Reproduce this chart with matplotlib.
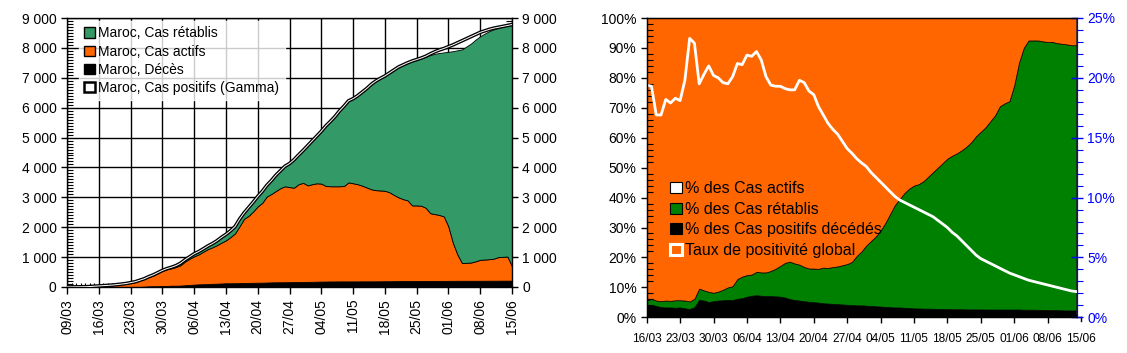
import numpy as np
import matplotlib.pyplot as plt
from matplotlib.patches import Patch
from matplotlib.ticker import MultipleLocator, FuncFormatter

plt.rcParams['font.family'] = ['Liberation Sans', 'DejaVu Sans']

# ---- Left chart: Maroc, daily 09/03 -> 15/06 ----
left_ticks = ['09/03', '16/03', '23/03', '30/03', '06/04', '13/04', '20/04', '27/04',
              '04/05', '11/05', '18/05', '25/05', '01/06', '08/06', '15/06']

deces = [0, 1, 1, 1, 1, 1, 2, 2, 2, 2, 2, 3, 4, 4, 4, 4, 5, 10, 23, 25, 26, 33, 36,
         44, 44, 48, 59, 70, 80, 90, 93, 97, 107, 111, 118, 126, 126, 127, 130, 135, 137, 141, 143,
         145, 149, 155, 158, 159, 161, 162, 165, 168, 170,
         171, 174, 179, 181, 183, 186, 186, 188, 188, 188, 188, 188, 190, 190, 190, 191, 192, 193,
         194, 196, 197, 198, 199, 199, 200, 202, 202, 203, 203, 204, 205,
         206, 206, 208, 208, 208, 208, 208, 208, 210, 210, 211, 211, 212, 212, 212]

actifs = [2, 1, 4, 5, 6, 15, 25, 34, 40, 50, 58, 73, 89, 107, 134, 160, 213, 258, 309, 363, 436, 506, 557,
          581, 626, 681, 794, 875, 947, 1001, 1085, 1168, 1219, 1288, 1366, 1434, 1545, 1668, 1904,
          2148, 2245, 2387, 2553, 2671, 2880, 2957, 3053, 3148, 3209, 3180, 3158, 3271, 3316,
          3229, 3266, 3291, 3279, 3197, 3184, 3184, 3182, 3192, 3312, 3282, 3252, 3200, 3140, 3080,
          3049, 3038, 3027, 2976, 2884, 2803, 2742, 2701, 2531, 2530, 2518, 2448, 2267, 2237, 2206, 2155,
          1814, 1264, 872, 592, 602, 612, 652, 702, 710, 720, 739, 789, 798, 808, 478]

retablis = [0, 0, 0, 0, 0, 1, 1, 1, 2, 2, 3, 3, 3, 4, 5, 6, 7, 7, 13, 14, 17, 17, 24,
            29, 38, 62, 66, 76, 93, 93, 97, 109, 122, 146, 177, 203, 217, 229, 249, 281, 303, 327, 350,
            393, 417, 456, 547, 590, 695, 778, 929, 984, 1083,
            1329, 1463, 1583, 1759, 2028, 2178, 2341, 2540, 2683, 2781, 2860, 2980, 3170, 3370, 3580,
            3690, 3760, 3830, 4010, 4210, 4390, 4500, 4620, 4850, 4880, 4930, 5050, 5290, 5360, 5420, 5490,
            5850, 6420, 6840, 7150, 7240, 7330, 7420, 7480, 7560, 7630, 7670, 7670, 7710, 7740, 8110]

positifs_gamma = [2, 3, 5, 7, 9, 15, 26, 35, 45, 55, 65, 80, 97, 117, 145, 175, 225, 275, 345, 405, 480, 555, 615,
                  660, 715, 795, 910, 1010, 1110, 1185, 1275, 1370, 1450, 1545, 1660, 1760, 1880, 2020, 2270,
                  2480, 2660, 2840, 3030, 3200, 3400, 3560, 3740, 3890, 4040, 4130, 4260, 4420, 4570,
                  4730, 4890, 5050, 5210, 5390, 5540, 5700, 5890, 6050, 6230, 6300, 6400, 6520, 6640, 6780,
                  6890, 6980, 7060, 7160, 7260, 7360, 7430, 7500, 7560, 7610, 7660, 7720, 7800, 7870, 7930, 7980,
                  8040, 8100, 8170, 8240, 8310, 8380, 8450, 8520, 8570, 8620, 8660, 8690, 8720, 8750, 8780]

# ---- Right chart: shares, daily 16/03 -> 14/06 ----
right_ticks = ['16/03', '23/03', '30/03', '06/04', '13/04', '20/04', '27/04',
               '04/05', '11/05', '18/05', '25/05', '01/06', '08/06', '15/06']

pct_decedes = [3.6, 4.2, 3.8, 3.4, 3.3, 3.3, 3.2, 3.3, 3.0, 2.8, 3.4, 5.9, 5.6, 5.1, 5.4, 5.6,
               5.7, 5.8, 5.8, 6.2, 6.4, 6.9, 7.2, 7.4, 7.2, 7.1, 7.1, 7.0, 6.9, 6.6, 6.1, 5.8, 5.6, 5.4,
               5.2, 5.1, 4.9, 4.7, 4.6, 4.5, 4.4, 4.3, 4.2, 4.1, 4.0, 4.0,
               3.9, 3.8, 3.7, 3.6, 3.5, 3.4, 3.3, 3.3, 3.2, 3.1, 3.0, 2.95, 2.9, 2.9, 2.85, 2.8, 2.8,
               2.75, 2.7, 2.7, 2.7, 2.65, 2.65, 2.65, 2.65, 2.6, 2.6, 2.6, 2.6, 2.6, 2.6,
               2.6, 2.6, 2.55, 2.55, 2.55, 2.5, 2.5, 2.45, 2.4, 2.4, 2.35, 2.3, 2.3, 2.3]

pct_retablis = [2.0, 2.0, 1.8, 2.0, 2.3, 2.2, 2.5, 2.4, 2.6, 2.5, 2.8, 3.7, 3.4, 3.4, 2.8, 3.0,
                3.5, 4.2, 4.6, 6.6, 7.2, 7.2, 7.1, 7.8, 7.8, 7.9, 8.4, 9.2, 10.3, 11.6, 12.5, 12.2, 12.0, 11.4,
                11.1, 11.2, 11.3, 11.9, 11.9, 12.3, 12.6, 13.1, 13.6, 14.4, 16.5, 18.0,
                20.1, 21.7, 23.3, 25.4, 28.0, 31.1, 34.2, 36.2, 38.3, 39.9, 41.0, 41.55, 42.6, 44.1, 45.65,
                47.2, 48.7, 50.25, 51.3, 52.1, 53.1, 54.35, 55.85, 57.85, 59.35, 60.9, 62.9, 64.9, 67.9, 68.9, 69.6,
                74.9, 82.4, 87.45, 89.95, 89.95, 90.0, 89.7, 89.55, 89.6, 89.2, 89.05, 88.9, 88.6, 88.6]

pct_actifs = [94.4, 93.8, 94.4, 94.6, 94.4, 94.5, 94.3, 94.3, 94.4, 94.7, 93.8, 90.4, 91.0, 91.5, 91.8, 91.4,
              90.8, 90.0, 89.6, 87.2, 86.4, 85.9, 85.7, 84.8, 85.0, 85.0, 84.5, 83.8, 82.8, 81.8, 81.4, 82.0,
              82.4, 83.2, 83.7, 83.7, 83.8, 83.4, 83.5, 83.2, 83.0, 82.6, 82.2, 81.5, 79.5, 78.0,
              76.0, 74.5, 73.0, 71.0, 68.5, 65.5, 62.5, 60.5, 58.5, 57.0, 56.0, 55.5, 54.5, 53.0, 51.5,
              50.0, 48.5, 47.0, 46.0, 45.2, 44.2, 43.0, 41.5, 39.5, 38.0, 36.5, 34.5, 32.5, 29.5, 28.5, 27.8,
              22.5, 15.0, 10.0, 7.5, 7.5, 7.5, 7.8, 8.0, 8.0, 8.4, 8.6, 8.8, 9.1, 9.1]

taux_positivite = [19.4, 19.3, 16.9, 16.9, 18.2, 17.9, 18.3, 18.1, 19.8, 23.3, 22.9, 19.5, 20.3, 21.0, 20.2, 20.0,
                   19.6, 19.5, 20.1, 21.2, 21.1, 21.9, 21.8, 22.2, 21.5, 20.1, 19.4, 19.3, 19.3, 19.1, 19.0,
                   19.0, 19.8, 19.6, 18.9, 18.6, 17.6, 16.9, 16.2, 15.7, 15.3, 14.7, 14.1, 13.7, 13.25, 12.9,
                   12.6, 12.1, 11.7, 11.3, 10.9, 10.5, 10.1, 9.8, 9.6, 9.4, 9.2, 9.0, 8.8, 8.6, 8.4, 8.1, 7.8,
                   7.5, 7.1, 6.8, 6.4, 6.0, 5.6, 5.2, 4.9, 4.7, 4.5, 4.3, 4.1, 3.9, 3.7,
                   3.55, 3.4, 3.25, 3.1, 3.0, 2.9, 2.8, 2.7, 2.6, 2.5, 2.4, 2.3, 2.2, 2.15]

GREEN_L = '#339966'
ORANGE = '#FF6600'
GREEN_R = '#008000'
BLUE = '#0000FF'

fig = plt.figure(figsize=(11.27, 3.53), dpi=100)
W, H = 1127, 353

# ================= left chart =================
ax1 = fig.add_axes([67 / W, (H - 287) / H, (512 - 67) / W, (287 - 18) / H])
x1 = np.arange(len(deces))
ax1.stackplot(x1, deces, actifs, retablis, colors=['black', ORANGE, GREEN_L],
              edgecolor='black', linewidth=0.6, zorder=2)
ax1.plot(x1, positifs_gamma, color='black', lw=2.6, zorder=3)
ax1.plot(x1, positifs_gamma, color='white', lw=0.7, zorder=4)
ax1.set_xlim(0, len(deces) - 1)
ax1.set_ylim(0, 9000)
ax1.set_axisbelow(True)
ax1.grid(True, which='major', color='black', lw=1)
ax1.set_xticks(np.arange(0, len(deces), 7))
ax1.set_xticklabels(left_ticks, rotation=90, fontsize=10)
ax1.xaxis.set_minor_locator(MultipleLocator(1))
ax1.yaxis.set_major_locator(MultipleLocator(1000))
ax1.yaxis.set_minor_locator(MultipleLocator(100))
ax1.yaxis.set_major_formatter(FuncFormatter(lambda v, p: f'{v:,.0f}'.replace(',', ' ')))
ax1.tick_params(axis='y', which='major', direction='out', length=4, labelsize=10,
                right=True, labelright=True, width=1)
ax1.tick_params(axis='y', which='minor', direction='in', length=4, right=True, width=0.8)
ax1.tick_params(axis='x', which='major', direction='out', length=5, width=1)
ax1.tick_params(axis='x', which='minor', direction='in', length=3, width=0.8)
for s in ax1.spines.values():
    s.set_linewidth(1)

h1 = [Patch(facecolor=GREEN_L, edgecolor='black', lw=1),
      Patch(facecolor=ORANGE, edgecolor='black', lw=1),
      Patch(facecolor='black', edgecolor='black', lw=1),
      Patch(facecolor='white', edgecolor='black', lw=1.8)]
l1 = ['Maroc, Cas rétablis', 'Maroc, Cas actifs', 'Maroc, Décès', 'Maroc, Cas positifs (Gamma)']
leg1 = ax1.legend(h1, l1, loc='upper left', bbox_to_anchor=(0.02, 1.0), fontsize=10,
                  frameon=True, fancybox=False, handlelength=0.75, handleheight=0.75,
                  handletextpad=0.25, labelspacing=0.3, borderpad=0.4, borderaxespad=0.2)
leg1.get_frame().set_facecolor('white')
leg1.get_frame().set_edgecolor('white')
leg1.set_zorder(5)

# ================= right chart =================
ax2 = fig.add_axes([646.7 / W, (H - 317.3) / H, (1076.7 - 646.7) / W, (317.3 - 18) / H])
x2 = np.arange(len(pct_decedes))
ax2.stackplot(x2, pct_decedes, pct_retablis, pct_actifs, colors=['black', GREEN_R, ORANGE],
              edgecolor='black', linewidth=0.5)
ax2.set_xlim(0, 90.1)
ax2.set_ylim(0, 100)
ax2.set_xticks(np.arange(0, 85, 7))
ax2.set_xticklabels(right_ticks[:-1], fontsize=8.6)
ax2.xaxis.set_minor_locator(MultipleLocator(1))
ax2.yaxis.set_major_locator(MultipleLocator(10))
ax2.yaxis.set_minor_locator(MultipleLocator(2))
ax2.yaxis.set_major_formatter(FuncFormatter(lambda v, p: f'{v:.0f}%'))
ax2.tick_params(axis='y', which='major', direction='out', length=4, labelsize=10, width=1, right=True)
ax2.tick_params(axis='y', which='minor', direction='in', length=4, width=0.8, right=True)
ax2.tick_params(axis='x', which='major', direction='out', length=4, width=1, pad=7)
ax2.tick_params(axis='x', which='minor', direction='in', length=2, width=0.8, colors='black')
# last date label sits just past the plotting area
ax2.annotate(right_ticks[-1], xy=(91, 0), xycoords=('data', 'axes fraction'),
             xytext=(0, -11), textcoords='offset points', ha='center', va='top',
             fontsize=8.6, annotation_clip=False)
ax2.plot([91, 91], [0, -0.013], transform=ax2.get_xaxis_transform(), color='black', lw=1, clip_on=False)
ax2.plot([90.1, 91], [0, 0], transform=ax2.get_xaxis_transform(), color='black', lw=1, clip_on=False)

ax3 = ax2.twinx()
ax3.plot(x2, taux_positivite, color='white', lw=2)
ax3.set_ylim(0, 25)
ax3.yaxis.set_major_locator(MultipleLocator(5))
ax3.yaxis.set_minor_locator(MultipleLocator(1))
ax3.yaxis.set_major_formatter(FuncFormatter(lambda v, p: f'{v:.0f}%'))
ax3.tick_params(axis='y', which='major', direction='inout', length=8, colors=BLUE, labelsize=10, width=1)
ax3.tick_params(axis='y', which='minor', direction='out', length=4, colors=BLUE, width=0.8)
ax3.spines['right'].set_color(BLUE)
for s in ['top', 'left', 'bottom']:
    ax3.spines[s].set_linewidth(1)

h2 = [Patch(facecolor='white', edgecolor='black', lw=0.8),
      Patch(facecolor=GREEN_R, edgecolor='black', lw=0.8),
      Patch(facecolor='black', edgecolor='black', lw=0.8),
      Patch(facecolor='none', edgecolor='white', lw=2.2)]
l2 = ['% des Cas actifs', '% des Cas rétablis', '% des Cas positifs décédés', 'Taux de positivité global']
ax3.legend(h2, l2, loc='upper left', bbox_to_anchor=(0.055, 0.455), fontsize=11.5, frameon=False,
           handlelength=0.7, handleheight=0.7, handletextpad=0.2, labelspacing=0.35,
           borderpad=0.0, borderaxespad=0.0)

fig.savefig('out.png', dpi=100)
